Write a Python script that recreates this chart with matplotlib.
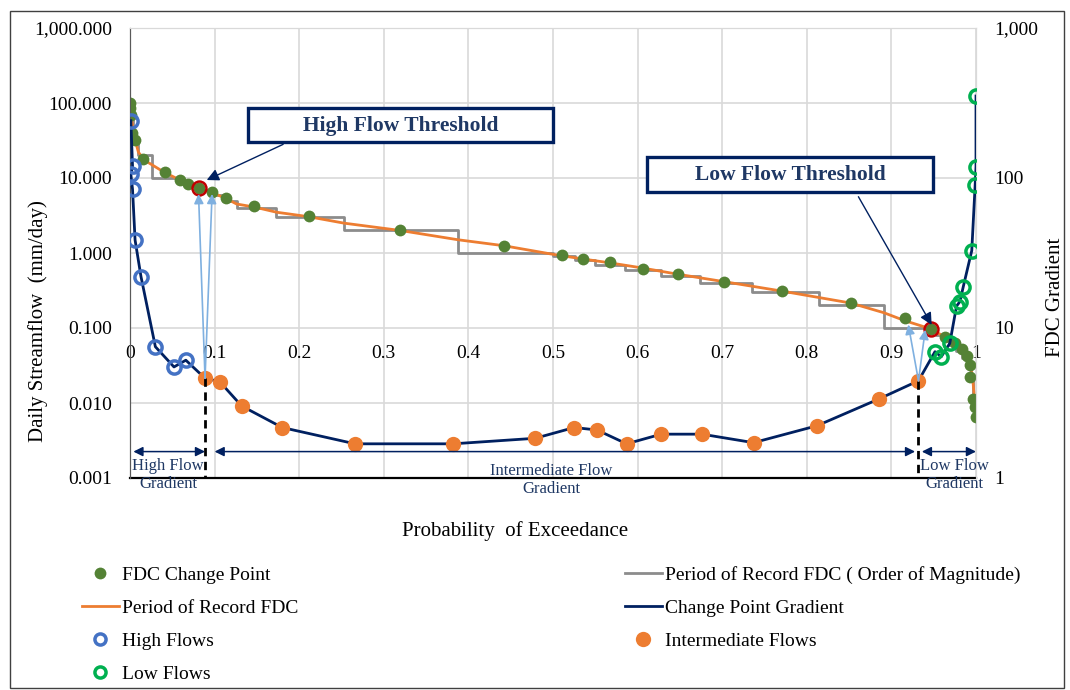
import matplotlib
matplotlib.use('Agg')
import matplotlib.pyplot as plt
from matplotlib.lines import Line2D
from matplotlib.patches import Rectangle

plt.rcParams['font.family'] = ['Liberation Serif', 'DejaVu Serif']

# ---------------- data ----------------
# FDC change points (left axis, mm/day)
fdc_x = [0.000, 0.000, 0.001, 0.002, 0.006, 0.015, 0.041, 0.059, 0.069, 0.081, 0.097, 0.114,
         0.147, 0.211, 0.319, 0.442, 0.511, 0.536, 0.567, 0.606, 0.648, 0.702, 0.771, 0.852,
         0.916, 0.947, 0.963, 0.975, 0.983, 0.989, 0.993, 0.993, 0.997, 0.999, 1.000]
fdc_y = [100, 85, 70, 40, 32, 17.9, 12.1, 9.4, 8.3, 7.3, 6.46, 5.37,
         4.24, 3.1, 2.0, 1.25, 0.94, 0.83, 0.75, 0.62, 0.52, 0.415, 0.31, 0.218,
         0.135, 0.097, 0.0766, 0.063, 0.052, 0.042, 0.032, 0.022, 0.0114, 0.0089, 0.0066]

# threshold change points (circled red)
thr_x = [0.081, 0.947]
thr_y = [7.3, 0.097]

# Period of record FDC
por_x = [0.0, 0.002, 0.005, 0.010, 0.018, 0.026, 0.040, 0.059, 0.081, 0.097, 0.114, 0.126,
         0.147, 0.173, 0.211, 0.253, 0.319, 0.388, 0.442, 0.500, 0.536, 0.567, 0.606, 0.648,
         0.702, 0.771, 0.852, 0.891, 0.916, 0.947, 0.963, 0.975, 0.983, 0.989, 0.993, 0.996,
         0.998, 1.000]
por_y = [90, 60, 35, 22, 17, 15, 12, 9.4, 7.3, 6.4, 5.3, 4.5,
         4.1, 3.5, 3.05, 2.5, 2.0, 1.5, 1.25, 0.96, 0.83, 0.74, 0.63, 0.52,
         0.415, 0.31, 0.215, 0.16, 0.125, 0.097, 0.076, 0.062, 0.051, 0.041, 0.032, 0.022,
         0.012, 0.0066]

# Period of record FDC rounded to one significant digit (step edges / levels)
oom_x = [0.0, 0.002, 0.004, 0.006, 0.009, 0.026, 0.060, 0.070, 0.082, 0.096, 0.110, 0.126,
         0.173, 0.253, 0.388, 0.500, 0.526, 0.550, 0.585, 0.628, 0.674, 0.735, 0.814, 0.891,
         0.948, 0.953, 0.961, 0.968, 0.976, 0.983, 0.989, 0.994, 0.997, 1.0]
oom_y = [90, 60, 40, 30, 20, 10, 9, 8, 7, 6, 5, 4,
         3, 2, 1, 0.9, 0.8, 0.7, 0.6, 0.5, 0.4, 0.3, 0.2, 0.1,
         0.09, 0.08, 0.07, 0.06, 0.05, 0.04, 0.03, 0.02, 0.01, 0.007]

# FDC gradient (right axis)
high_x = [0.001, 0.003, 0.001, 0.003, 0.006, 0.013, 0.030, 0.052, 0.066]
high_y = [241, 120, 106, 84, 38.6, 22, 7.5, 5.5, 6.1]

int_x = [0.0887, 0.106, 0.132, 0.180, 0.266, 0.382, 0.479, 0.525, 0.552, 0.587, 0.628,
         0.676, 0.737, 0.812, 0.885, 0.932]
int_y = [4.62, 4.39, 3.02, 2.17, 1.69, 1.69, 1.84, 2.17, 2.09, 1.69, 1.96,
         1.96, 1.72, 2.23, 3.36, 4.45]

low_x = [0.9515, 0.959, 0.969, 0.977, 0.981, 0.985, 0.995, 0.999, 1.0, 1.0]
low_y = [6.95, 6.44, 7.9, 14, 15, 18.9, 32.8, 89.8, 119, 352]

xtick_vals = [0, 0.1, 0.2, 0.3, 0.4, 0.5, 0.6, 0.7, 0.8, 0.9, 1.0]
xtick_labels = ['0', '0.1', '0.2', '0.3', '0.4', '0.5', '0.6', '0.7', '0.8', '0.9', '1']
ly_vals = [0.001, 0.01, 0.1, 1, 10, 100, 1000]
ly_labels = ['0.001', '0.010', '0.100', '1.000', '10.000', '100.000', '1,000.000']
ry_vals = [1, 10, 100, 1000]
ry_labels = ['1', '10', '100', '1,000']

# segment ranges (x from, x to) for the gradient zones
zone_high = (0.004, 0.0887)
zone_int = (0.100, 0.928)
zone_low = (0.936, 1.0)

# ---------------- colors ----------------
GREEN = '#548235'
ORANGE = '#ED7D31'
GRAY = '#8C8C8C'
NAVY = '#002060'
BLUE = '#4472C4'
LGREEN = '#00B050'
RED = '#C00000'
LBLUE = '#7FB0E0'
TXTNAVY = '#1F3864'
GRID = '#D9D9D9'

W, H = 1070, 690
fig = plt.figure(figsize=(W / 100, H / 100), dpi=100)
ax = fig.add_axes([130 / W, 1 - 478 / H, 846 / W, 450 / H])
ax2 = ax.twinx()

ax.set_xlim(0, 1)
ax.set_yscale('log')
ax.set_ylim(0.001, 1000)
ax2.set_yscale('log')
ax2.set_ylim(1, 1000)

ax.spines['bottom'].set_position(('axes', 1 / 3))
ax.spines['bottom'].set_color('none')

# ticks / grid
ax.set_xticks(xtick_vals)
ax.set_xticklabels(xtick_labels)
ax.set_yticks(ly_vals)
ax.set_yticklabels(ly_labels)
ax.yaxis.set_minor_locator(matplotlib.ticker.NullLocator())
ax2.set_yticks(ry_vals)
ax2.set_yticklabels(ry_labels)
ax2.yaxis.set_minor_locator(matplotlib.ticker.NullLocator())
ax.grid(True, color=GRID, lw=1.2, zorder=0)
ax.set_axisbelow(True)

ax.tick_params(axis='x', length=0, pad=12, labelsize=14)
ax.tick_params(axis='y', length=0, pad=13, labelsize=14)
ax2.tick_params(axis='y', length=0, pad=13, labelsize=14)
for s in ['top', 'right']:
    ax.spines[s].set_color(GRID)
    ax2.spines[s].set_color(GRID)
ax2.spines['left'].set_color('#595959')
ax2.spines['bottom'].set_color('none')
ax.spines['left'].set_color('#595959')
ax.axhline(0.001, color='black', lw=1.6, clip_on=False, zorder=1)

# primary series
ax.step(oom_x, oom_y, where='post', color=GRAY, lw=2, zorder=2)
ax.plot(por_x, por_y, color=ORANGE, lw=2, zorder=3)
ax.plot(fdc_x, fdc_y, 'o', color=GREEN, ms=8.5, mec='none', zorder=4)
ax.plot(thr_x, thr_y, 'o', mfc='none', mec=RED, mew=1.8, ms=10, zorder=5)

# secondary series
ax2.plot(high_x + int_x + low_x, high_y + int_y + low_y, color=NAVY, lw=2, zorder=3)
ax2.plot(high_x, high_y, 'o', mfc='none', mec=BLUE, mew=2.5, ms=9.5, zorder=4)
ax2.plot(int_x, int_y, 'o', color=ORANGE, mec='none', ms=11, zorder=4)
ax2.plot(low_x, low_y, 'o', mfc='none', mec=LGREEN, mew=2.5, ms=9.5, zorder=4)

# dashed threshold lines
for tx, ty in [(int_x[0], int_y[0]), (int_x[-1], int_y[-1])]:
    ax2.plot([tx, tx], [ty, 1], color='black', lw=2, ls=(0, (3, 2)), zorder=5)

# light blue arrows from gradient threshold to FDC points
lb_pairs = [((int_x[0], int_y[0]), (fdc_x[9], fdc_y[9] * 0.84)),
            ((int_x[0], int_y[0]), (fdc_x[10], fdc_y[10] * 0.95)),
            ((int_x[-1], int_y[-1]), (0.920, 0.111)),
            ((int_x[-1], int_y[-1]), (0.940, 0.095))]
for (sx, sy), (ex, ey) in lb_pairs:
    ax2.annotate('', xy=(ex, ey), xycoords=ax.transData, xytext=(sx, sy),
                 textcoords=ax2.transData,
                 arrowprops=dict(arrowstyle='-|>', color=LBLUE, lw=1.2,
                                 mutation_scale=14, shrinkA=0, shrinkB=0), zorder=6)

# zone double arrows
for (a, b) in [zone_high, zone_int, zone_low]:
    ax2.annotate('', xy=(b, 1.5), xytext=(a, 1.5),
                 arrowprops=dict(arrowstyle='<|-|>', color=NAVY, lw=1.1,
                                 mutation_scale=14, shrinkA=0, shrinkB=0), zorder=6)

ax2.text(0.045, 1.047, 'High Flow\nGradient', ha='center', va='center', fontsize=12,
         color=TXTNAVY, linespacing=1.15)
ax2.text(0.498, 0.975, 'Intermediate Flow\nGradient', ha='center', va='center', fontsize=12,
         color=TXTNAVY, linespacing=1.15)
ax2.text(0.934, 1.047, 'Low Flow\nGradient', ha='left', va='center', fontsize=12,
         color=TXTNAVY, linespacing=1.15, multialignment='center')

# threshold annotation boxes
def fig_rect(x0, y0, x1, y1):
    return Rectangle((x0 / W, 1 - y1 / H), (x1 - x0) / W, (y1 - y0) / H,
                     transform=fig.transFigure, facecolor='white', edgecolor=NAVY,
                     lw=2.4, zorder=10)

fig.add_artist(fig_rect(248, 108, 553, 142))
fig.text(400.5 / W, 1 - 125.5 / H, 'High Flow Threshold', ha='center', va='center',
         fontsize=15.5, fontweight='bold', color=TXTNAVY, zorder=11)
fig.add_artist(fig_rect(647, 157, 933, 192))
fig.text(790 / W, 1 - 175 / H, 'Low Flow Threshold', ha='center', va='center',
         fontsize=15.5, fontweight='bold', color=TXTNAVY, zorder=11)

ax.annotate('', xy=(0.0907, 9.4), xytext=(0.181, 28.1),
            arrowprops=dict(arrowstyle='-|>', color=NAVY, lw=1.0, mutation_scale=18,
                            shrinkA=0, shrinkB=0), zorder=7)
ax.annotate('', xy=(0.9476, 0.11), xytext=(0.861, 5.63),
            arrowprops=dict(arrowstyle='-|>', color=NAVY, lw=1.0, mutation_scale=18,
                            shrinkA=0, shrinkB=0), zorder=7)

# axis labels
fig.text(38 / W, 1 - 321 / H, 'Daily Streamflow  (mm/day)', rotation=90, ha='center',
         va='center', fontsize=15)
fig.text(1055 / W, 1 - 297 / H, 'FDC Gradient', rotation=90, ha='center', va='center',
         fontsize=15)
fig.text(515 / W, 1 - 531 / H, 'Probability  of Exceedance', ha='center', va='center',
         fontsize=15)

# legends
h_fdc = Line2D([], [], ls='none', marker='o', color=GREEN, mec='none', ms=8.5)
h_por = Line2D([], [], color=ORANGE, lw=2)
h_high = Line2D([], [], ls='none', marker='o', mfc='none', mec=BLUE, mew=2.5, ms=8)
h_low = Line2D([], [], ls='none', marker='o', mfc='none', mec=LGREEN, mew=2.5, ms=8)
h_oom = Line2D([], [], color=GRAY, lw=2)
h_grad = Line2D([], [], color=NAVY, lw=2)
h_int = Line2D([], [], ls='none', marker='o', color=ORANGE, mec='none', ms=11)

leg_kw = dict(loc='upper left', frameon=False, fontsize=14, borderpad=0, borderaxespad=0,
              handlelength=1.9, handletextpad=0.18, labelspacing=0.8)
leg1 = fig.legend([h_fdc, h_por, h_high, h_low],
                  ['FDC Change Point', 'Period of Record FDC', 'High Flows', 'Low Flows'],
                  bbox_to_anchor=(82 / W, 1 - 566 / H), **leg_kw)
leg2 = fig.legend([h_oom, h_grad, h_int],
                  ['Period of Record FDC ( Order of Magnitude)', 'Change Point Gradient',
                   'Intermediate Flows'],
                  bbox_to_anchor=(625 / W, 1 - 566 / H), **leg_kw)

# outer frame
fig.add_artist(Rectangle((10 / W, 2 / H), 1054 / W, (H - 13) / H, transform=fig.transFigure,
                         facecolor='none', edgecolor='#404040', lw=1.0))

fig.savefig('out.png', dpi=100)
